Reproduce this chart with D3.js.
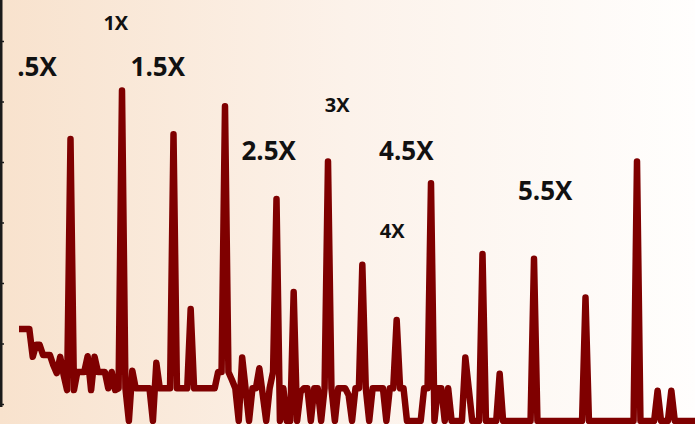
<!DOCTYPE html>
<html>
<head>
<meta charset="utf-8">
<script src="https://cdn.jsdelivr.net/npm/d3@7"></script>
<style>
  html, body { margin: 0; padding: 0; background: #fff; overflow: hidden; }
  svg { display: block; }
  .order-label { font-family: "Open Sans", "Noto Sans", sans-serif; font-weight: 700; fill: #111; }
</style>
</head>
<body>
<svg id="chart" width="695" height="424"></svg>
<script>
// Order spectrum, sampled every 1/30 of the running speed (dB)
const sampleStep = 1 / 30;
const amplitude = [
  -47.6, -47.6, -47.6, -47.6, -52.2, -50.2, -50.2, -51.9, -51.9, -51.9,
  -53.6, -54.9, -52.2, -55.2, -57.7, -16.2, -57.7, -54.7, -54.7, -54.7,
  -52.1, -57.7, -52.2, -54.7, -54.7, -54.7, -57.4, -54.7, -57.7, -57.4,
   -8.2, -57.4, -62.8, -54.5, -57.4, -57.4, -57.4, -57.4, -57.4, -62.8,
  -53.2, -57.4, -57.4, -57.4, -57.4, -15.4, -57.4, -57.4, -57.4, -57.4,
  -44.3, -57.4, -57.4, -57.4, -57.4, -57.4, -57.4, -57.4, -54.7, -54.7,
  -10.8, -54.7, -56.0, -57.4, -62.8, -52.3, -57.5, -62.8, -57.4, -57.4,
  -54.1, -58.5, -62.8, -57.4, -54.7, -26.1, -62.8, -57.4, -62.8, -62.8,
  -41.5, -62.8, -58.0, -57.4, -57.4, -62.8, -57.4, -57.4, -62.8, -57.4,
  -19.9, -57.4, -62.8, -57.4, -57.4, -57.4, -58.5, -62.8, -57.4, -57.4,
  -37.0, -57.4, -62.8, -57.4, -57.4, -57.4, -57.4, -62.8, -57.4, -57.4,
  -46.1, -57.4, -57.4, -62.8, -62.8, -62.8, -62.8, -62.8, -57.4, -57.4,
  -23.5, -62.8, -57.4, -57.4, -62.8, -57.4, -62.8, -62.8, -62.8, -62.8,
  -52.3, -57.5, -62.8, -62.8, -62.8, -35.2, -62.8, -62.8, -62.8, -62.8,
  -55.0, -62.8, -62.8, -62.8, -62.8, -62.8, -62.8, -62.8, -62.8, -62.8,
  -36.0, -62.8, -62.8, -62.8, -62.8, -62.8, -62.8, -62.8, -62.8, -62.8,
  -62.8, -62.8, -62.8, -62.8, -62.8, -42.4, -62.8, -62.8, -62.8, -62.8,
  -62.8, -62.8, -62.8, -62.8, -62.8, -62.8, -62.8, -62.8, -62.8, -62.8,
  -19.9, -62.8, -62.8, -62.8, -62.8, -62.8, -57.8, -62.8, -62.8, -62.8,
  -57.8, -62.8, -62.8, -62.8, -62.8, -62.8, -62.8, -62.8
];

// Order annotations: text, order position, level of the text baseline (dB)
const labelText  = [".5X", "1X", "1.5X", "2.5X", "3X", "4X", "4.5X", "5.5X"];
const labelOrder = [0.175, 0.94, 1.348, 2.424, 3.089, 3.623, 3.760, 5.109];
const labelLevel = [-5.8, 1.9, -5.8, -19.6, -11.8, -32.5, -19.6, -26.3];

// Amplitude axis ticks (dB)
const tickValues = [-60, -50, -40, -30, -20, -10, 0];

const width = 695, height = 424;
const svg = d3.select("#chart");

// Background wash
const defs = svg.append("defs");
const grad = defs.append("linearGradient")
  .attr("id", "bg").attr("x1", "0%").attr("x2", "100%").attr("y1", "0%").attr("y2", "0%");
grad.append("stop").attr("offset", "0%").attr("stop-color", "#f8e2cd");
grad.append("stop").attr("offset", "50%").attr("stop-color", "#fcf2ea");
grad.append("stop").attr("offset", "100%").attr("stop-color", "#fffefd");
svg.append("rect").attr("width", width).attr("height", height).attr("fill", "url(#bg)");

const x = d3.scaleLinear().domain([0, 6.5]).range([19, 688.5]);
const y = d3.scaleLinear().domain([-60, 0]).range([404, 41]);

// Amplitude axis on the left edge
const yAxis = d3.axisRight(y).tickValues(tickValues).tickSize(4).tickFormat("");
const axisG = svg.append("g").attr("transform", "translate(0,0)").call(yAxis);
axisG.select(".domain").remove();
axisG.selectAll(".tick line").attr("stroke", "#1a1a1a").attr("stroke-width", 1.5);
svg.append("line")
  .attr("x1", 1.25).attr("x2", 1.25)
  .attr("y1", 0).attr("y2", y(-60) + 3)
  .attr("stroke", "#1a1a1a").attr("stroke-width", 2.5);

// Spectrum trace
const line = d3.line()
  .x((d, i) => x(i * sampleStep))
  .y(d => y(d))
  .curve(d3.curveLinear);

svg.append("path")
  .datum(amplitude)
  .attr("d", line)
  .attr("fill", "none")
  .attr("stroke", "#7f0000")
  .attr("stroke-width", 6.5)
  .attr("stroke-linejoin", "round")
  .attr("stroke-linecap", "butt");

// Order labels
svg.append("g").selectAll("text")
  .data(labelText)
  .join("text")
  .attr("class", "order-label")
  .attr("x", (d, i) => x(labelOrder[i]))
  .attr("y", (d, i) => y(labelLevel[i]))
  .attr("text-anchor", "middle")
  .attr("font-size", d => d.includes(".") ? 26 : 20)
  .text(d => d);
</script>
</body>
</html>
